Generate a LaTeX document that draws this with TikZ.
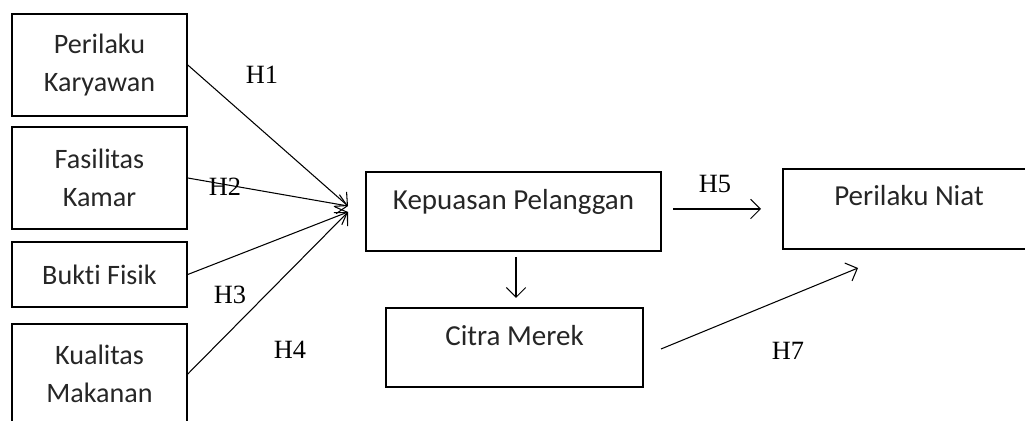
\documentclass[tikz,border=0pt]{standalone}
\usepackage{fontspec}
\setmainfont{Carlito}[Ligatures=NoCommon]
\newfontfamily\hfont{Liberation Serif}
\usetikzlibrary{arrows.meta,positioning}
\definecolor{modelink}{RGB}{38,38,38}

\begin{document}
\begin{tikzpicture}[x=0.02cm,y=-0.02cm,
  varbox/.style={rectangle,draw=black,line width=0.9pt,minimum width=3.5cm,align=center,
    text=modelink,font=\fontsize{16}{22}\selectfont},
  topbox/.style={rectangle,draw=black,line width=0.9pt,inner ysep=0pt,text height=0.76cm,
    text depth=0.82cm,text=modelink,font=\fontsize{16.5}{19}\selectfont},
  hyp/.style={font=\hfont\fontsize{15}{17}\selectfont,text=black},
  link/.style={line width=0.6pt,-{Straight Barb[length=5.5pt,width=11pt]}}]
\useasboundingbox (0,0) rectangle (1025,421);
% Independent variables on the left
\node[varbox,minimum height=2.04cm] (pk) at (99.5,65) {Perilaku\\Karyawan};
\node[varbox,minimum height=2.04cm] (fk) at (99.5,178) {Fasilitas\\Kamar};
\node[varbox,minimum height=1.3cm] (bf) at (99.5,274.5) {Bukti Fisik};
\node[varbox,minimum height=2cm] (km) at (99.5,374) {Kualitas\\Makanan};
% Mediators and outcome
\node[topbox,minimum width=5.9cm] (kp) at (513.5,211.5) {Kepuasan Pelanggan};
\node[topbox,minimum width=5.14cm] (cm) at (514.5,347.5) {Citra Merek};
\node[topbox,minimum width=5.04cm,text height=0.74cm,text depth=0.86cm] (pn) at (909,209) {Perilaku Niat};
% Free arrow ends
\coordinate (hubA) at (348,206);
\coordinate (hubB) at (348,212);
\coordinate (h5s) at (673,209); \coordinate (h5e) at (761,209);
\coordinate (dns) at (516,257); \coordinate (dne) at (516,298);
\coordinate (h7s) at (661,349); \coordinate (h7e) at (858,268);
\draw[link] (pk.east) -- (hubA);
\draw[link] (fk.east) -- (hubA);
\draw[link] (bf.east) -- (hubB);
\draw[link] (km.east) -- (hubB);
\draw[link] (h5s) -- (h5e);
\draw[link] (dns) -- (dne);
\draw[link] (h7s) -- (h7e);
% Hypothesis labels
\node[hyp] (lh1) at (262,75) {H1};
\node[hyp] (lh2) at (225,187) {H2};
\node[hyp] (lh3) at (230,295) {H3};
\node[hyp] (lh4) at (290,350) {H4};
\node[hyp] (lh5) at (715,184) {H5};
\node[hyp] (lh7) at (788,351) {H7};
\end{tikzpicture}
\end{document}
